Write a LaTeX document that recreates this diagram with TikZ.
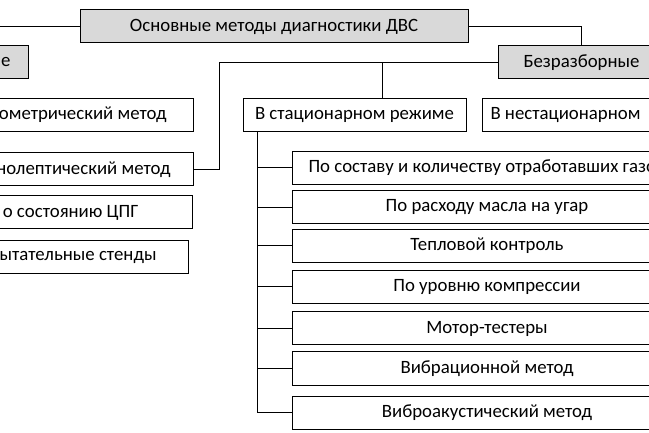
\documentclass[tikz,border=0pt]{standalone}
\usepackage{fontspec}
\setmainfont{Carlito}
\definecolor{boxgray}{HTML}{D9D9D9}
\tikzset{
	box/.style={draw, line width=1pt, minimum height=33pt, inner sep=0pt, font=\fontsize{18.8}{21}\selectfont},
	headbox/.style={box, fill=boxgray},
	methodbox/.style={box, fill=white},
	link/.style={line width=1pt},
}
\begin{document}
\begin{tikzpicture}[x=1pt,y=-1pt]
			\clip (0,0) rectangle (649,433);
			\node[headbox, minimum width=388pt] (main) at (274,26.5) {Основные методы диагностики ДВС};
			\node[headbox, anchor=east, text width=150pt, inner xsep=18pt, align=flush right] (razb) at (29,62) {е};
			\node[headbox, minimum width=167pt] (bezr) at (581.5,62.5) {Безразборные};
			\node[methodbox, minimum width=223pt] (stat) at (354.5,115) {В стационарном режиме};
			\node[methodbox, anchor=west, text width=200pt, inner xsep=8pt, align=flush left] (nestat) at (482,115) {В нестационарном};
			\foreach \name/\yc/\xr/\pad/\txt in {
				mikro/115/194/27/ометрический метод,
				organo/169.5/194/23/нолептический метод,
				cpg/212.5/193/54/о состоянию ЦПГ,
				stend/257.5/189/32/ытательные стенды}
				\node[methodbox, anchor=east, text width=200pt, inner xsep=\pad pt, align=flush right] (\name) at (\xr,\yc) {\txt};
			\node[methodbox, anchor=west, text width=354pt, inner xsep=16pt, align=flush left] (m1) at (292,168) {По составу и количеству отработавших газо};
			\foreach \name/\yc/\txt in {
				m2/207.5/По расходу масла на угар,
				m3/246/Тепловой контроль,
				m4/287/По уровню компрессии,
				m5/328.5/Мотор-тестеры,
				m6/368.5/Вибрационной метод,
				m7/412.5/Виброакустический метод}
				\node[methodbox, minimum width=390pt] (\name) at (487,\yc) {\txt};
			\coordinate (jog) at (219,62.5);
			\coordinate (drop) at (382,62.5);
			\coordinate (spine) at (257,115);
			\draw[link] (main.west) -| (razb.north);
			\draw[link] (main.east) -| (bezr.north);
			\draw[link] (bezr.west) -- (jog) |- (organo.east);
			\draw[link] (drop) -- (drop |- stat.north);
			\draw[link] (spine |- stat.south) |- (m7.west);
			\foreach \name in {m1,m2,m3,m4,m5,m6}
				\draw[link] (spine |- \name.west) -- (\name.west);
		\end{tikzpicture}
\end{document}
